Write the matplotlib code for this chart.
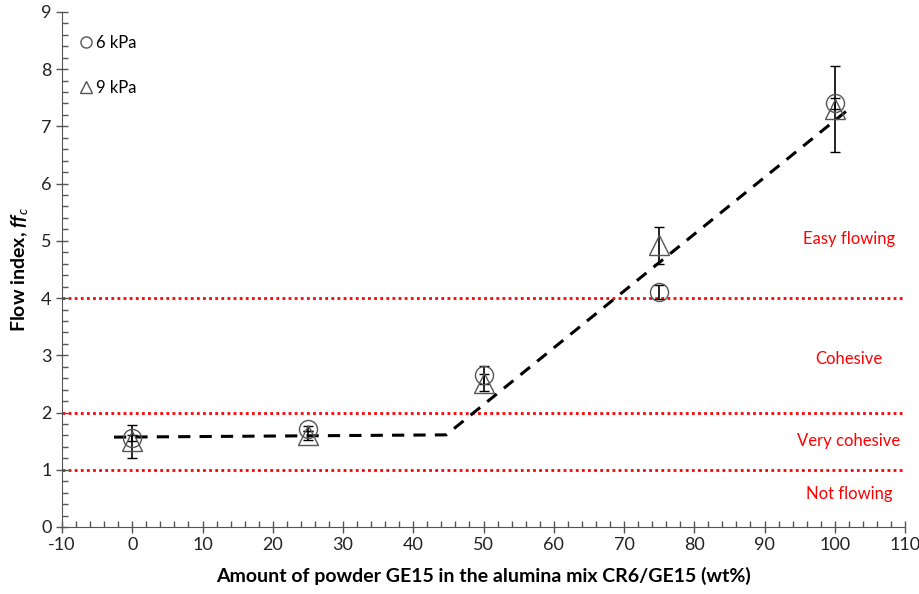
import matplotlib
matplotlib.use("Agg")
import matplotlib.pyplot as plt
from matplotlib.ticker import MultipleLocator
from matplotlib.lines import Line2D

plt.rcParams['font.family'] = ['Lato', 'DejaVu Sans']
plt.rcParams['axes.unicode_minus'] = False
plt.rcParams['mathtext.fontset'] = 'custom'
plt.rcParams['mathtext.it'] = 'Lato:italic'
plt.rcParams['mathtext.bfit'] = 'Lato:bold:italic'

# data
ge15 = [0, 25, 50, 75, 100]
ffc_6kpa = [1.56, 1.72, 2.65, 4.10, 7.40]
err_6kpa = [0.05, 0.05, 0.16, 0.12, 0.10]
ffc_9kpa = [1.50, 1.60, 2.52, 4.92, 7.30]
err_9kpa = [0.29, 0.08, 0.15, 0.32, 0.75]

trend_x = [-2.6, 44.7, 102.3]
trend_y = [1.57, 1.61, 7.33]

limits = [1, 2, 4]
regions = ['Not flowing', 'Very cohesive', 'Cohesive', 'Easy flowing']
region_y = [0.58, 1.5, 2.94, 5.03]

fig = plt.figure(figsize=(9.2, 5.94), dpi=100)
ax = fig.add_axes([0.0674, 0.1128, 0.9163, 0.8672])

for y in limits:
    ax.axhline(y, color='red', linestyle=(0, (1, 1.2)), linewidth=2.0, zorder=1)

ax.plot(trend_x, trend_y, color='black', linestyle=(0, (4, 3)), linewidth=2.2, zorder=2)

ax.errorbar(ge15, ffc_6kpa, yerr=err_6kpa, fmt='o', markersize=13, markerfacecolor='none',
            markeredgecolor='#555555', markeredgewidth=1, ecolor='black', elinewidth=1.2,
            capsize=3.5, capthick=1.2, zorder=3)
ax.errorbar(ge15, ffc_9kpa, yerr=err_9kpa, fmt='^', markersize=14, markerfacecolor='none',
            markeredgecolor='#555555', markeredgewidth=1, ecolor='black', elinewidth=1.2,
            capsize=3.5, capthick=1.2, zorder=3)

for label, y in zip(regions, region_y):
    ax.text(102, y, label, color='red', fontsize=12, ha='center', va='center')

handles = [Line2D([], [], marker='o', linestyle='none', markersize=8, markerfacecolor='none',
                  markeredgecolor='#555555'),
           Line2D([], [], marker='^', linestyle='none', markersize=8, markerfacecolor='none',
                  markeredgecolor='#555555')]
ax.legend(handles, ['6 kPa', '9 kPa'], loc='upper left', bbox_to_anchor=(0.005, 0.985),
          frameon=False, fontsize=12, labelspacing=1.75, handlelength=0.6, handletextpad=0.3)

ax.set_xlim(-10, 110)
ax.set_ylim(0, 9)
ax.xaxis.set_major_locator(MultipleLocator(10))
ax.xaxis.set_minor_locator(MultipleLocator(2))
ax.yaxis.set_major_locator(MultipleLocator(1))
ax.yaxis.set_minor_locator(MultipleLocator(0.2))
ax.tick_params(which='major', direction='inout', length=8, width=1, labelsize=13,
               color='#555555', labelcolor='#222222')
ax.tick_params(which='minor', direction='in', length=4, width=1, color='#555555')
for s in ['top', 'right']:
    ax.spines[s].set_visible(False)
for s in ['left', 'bottom']:
    ax.spines[s].set_color('#555555')

ax.set_xlabel('Amount of powder GE15 in the alumina mix CR6/GE15 (wt%)', fontsize=14,
              fontweight='bold', labelpad=10)
ax.set_ylabel(r'Flow index, $\mathbfit{ff}_{\mathit{c}}$', fontsize=14, fontweight='bold', labelpad=8)

fig.savefig('out.png', dpi=100)
